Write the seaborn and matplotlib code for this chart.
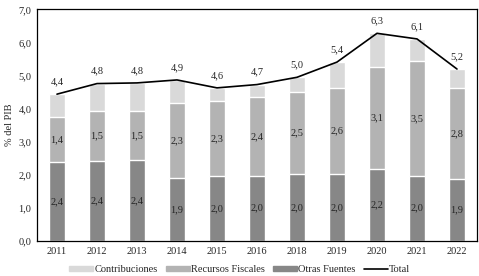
import numpy as np
import pandas as pd
import matplotlib
matplotlib.use("Agg")
import matplotlib.pyplot as plt
import seaborn as sns
from matplotlib.patches import Patch
from matplotlib.lines import Line2D

years = ["2011", "2012", "2013", "2014", "2015", "2016", "2018", "2019", "2020", "2021", "2022"]
otras = [2.38, 2.42, 2.44, 1.91, 1.96, 1.98, 2.03, 2.03, 2.18, 1.98, 1.86]
recursos = [1.38, 1.52, 1.48, 2.27, 2.27, 2.36, 2.49, 2.61, 3.09, 3.46, 2.76]
contrib = [0.68, 0.82, 0.86, 0.69, 0.40, 0.39, 0.43, 0.77, 1.01, 0.67, 0.58]
total = [4.44, 4.76, 4.78, 4.87, 4.63, 4.73, 4.95, 5.41, 6.28, 6.11, 5.20]

c_contrib = "#d9d9d9"
c_recursos = "#b3b3b3"
c_otras = "#878787"

sns.set_style("white")
plt.rcParams['font.family'] = ['Liberation Serif', 'DejaVu Serif']

df = pd.DataFrame({"Año": years, "Otras": otras, "Recursos": recursos, "Contrib": contrib, "Total": total})
df["top2"] = df["Otras"] + df["Recursos"]
df["top3"] = df["top2"] + df["Contrib"]

fig = plt.figure(figsize=(4.79, 2.76), dpi=100)
ax = fig.add_axes([0.0772, 0.1268, 0.9186, 0.8388])

w = 0.41
sns.barplot(data=df, x="Año", y="top3", color=c_contrib, width=w, saturation=1, ax=ax)
sns.barplot(data=df, x="Año", y="top2", color=c_recursos, width=w, saturation=1, ax=ax)
sns.barplot(data=df, x="Año", y="Otras", color=c_otras, width=w, saturation=1, ax=ax)
sns.lineplot(x=np.arange(len(years)), y=df["Total"], color="black", lw=1.2, ax=ax)

fs = 7.5
def fmt(v):
    return f"{v:.1f}".replace(".", ",")

for i in range(len(years)):
    ax.text(i, df["Otras"][i] / 2, fmt(df["Otras"][i]), ha="center", va="center", fontsize=fs)
    ax.text(i, df["Otras"][i] + df["Recursos"][i] / 2, fmt(df["Recursos"][i]),
            ha="center", va="center", fontsize=fs)
    ax.annotate(fmt(df["Total"][i]), (i, df["Total"][i]), xytext=(0, 9),
                textcoords="offset points", ha="center", va="center", fontsize=fs)

ax.set_xlim(-0.5, len(years) - 0.5)
ax.set_ylim(0, 7)
ax.set_yticks(np.arange(0, 8, 1))
ax.set_yticklabels([fmt(v) for v in np.arange(0, 8, 1)])
ax.tick_params(length=0, labelsize=fs, pad=4)
ax.set_xlabel("")
ax.set_ylabel("% del PIB", fontsize=fs, labelpad=3)
for s in ax.spines.values():
    s.set_color("black")
    s.set_linewidth(0.9)

handles = [Patch(color=c_contrib, label="Contribuciones"),
           Patch(color=c_recursos, label="Recursos Fiscales"),
           Patch(color=c_otras, label="Otras Fuentes"),
           Line2D([], [], color="black", lw=1.2, label="Total")]
fig.legend(handles=handles, loc="center", bbox_to_anchor=(0.5, 0.022), ncol=4, frameon=False,
           fontsize=fs, handlelength=2.3, handleheight=0.3, handletextpad=0.1, columnspacing=0.8,
           borderaxespad=0)

plt.savefig("out.png", dpi=100)
